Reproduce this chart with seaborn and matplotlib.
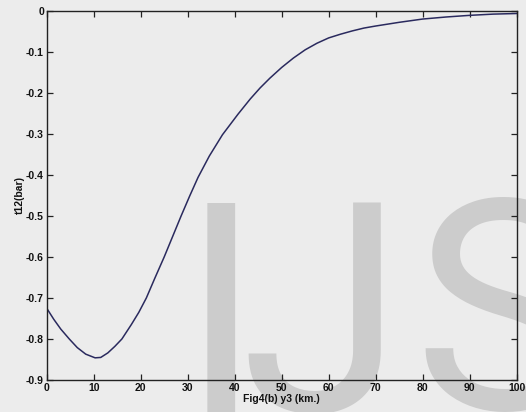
import matplotlib
matplotlib.use("Agg")
import matplotlib.pyplot as plt
import seaborn as sns
import pandas as pd

# Data
y3_km = [0, 1.5, 3, 4.8, 6.5, 8.3, 10.3, 11.5, 13, 14.5, 16, 18, 19.6, 21.2, 23, 25, 26.8,
         28.6, 30.4, 32.2, 34.6, 37.4, 40.7, 43.3, 45.4, 47.5, 50, 52.5, 55, 57.5, 60,
         62.5, 65, 67.5, 70, 75, 80, 85, 90, 95, 100]
t12_bar = [-0.725, -0.752, -0.776, -0.800, -0.821, -0.837, -0.846, -0.845, -0.834, -0.818,
           -0.800, -0.765, -0.735, -0.700, -0.652, -0.600, -0.550, -0.500, -0.452, -0.406,
           -0.354, -0.302, -0.252, -0.215, -0.188, -0.164, -0.138, -0.115, -0.095, -0.079,
           -0.066, -0.057, -0.049, -0.042, -0.037, -0.028, -0.020, -0.015, -0.011, -0.008,
           -0.0065]
x_ticks = [0, 10, 20, 30, 40, 50, 60, 70, 80, 90, 100]
y_ticks = [0, -0.1, -0.2, -0.3, -0.4, -0.5, -0.6, -0.7, -0.8, -0.9]
y_ticklabels = ["0", "-0.1", "-0.2", "-0.3", "-0.4", "-0.5", "-0.6", "-0.7", "-0.8", "-0.9"]
watermark_letters = ["I", "J", "S"]

sns.set_style("ticks")
plt.rcParams['font.family'] = ['Liberation Sans', 'DejaVu Sans']

bg = "#ececec"
fig = plt.figure(figsize=(5.26, 4.12), dpi=100, facecolor=bg)
ax = fig.add_axes([0.0888, 0.0777, 0.8935, 0.896])
ax.set_facecolor("none")
ax.set_zorder(1)

df = pd.DataFrame({"y3": y3_km, "t12": t12_bar})
sns.lineplot(data=df, x="y3", y="t12", ax=ax, color="#2a2a5e", linewidth=1.1)

ax.set_xlim(0, 100)
ax.set_ylim(-0.9, 0)
ax.set_xticks(x_ticks)
ax.set_xticklabels([str(t) for t in x_ticks])
ax.set_yticks(y_ticks)
ax.set_yticklabels(y_ticklabels)
for s in ax.spines.values():
    s.set_visible(True)
    s.set_color("#222222")
    s.set_linewidth(1.0)
ax.tick_params(direction="in", length=4, width=0.9, top=True, right=True,
               labelsize=7.5, pad=2, colors="#222222")
for lab in ax.get_xticklabels() + ax.get_yticklabels():
    lab.set_fontweight("bold")
    lab.set_color("#111111")
ax.set_xlabel("Fig4(b) y3 (km.)", fontsize=7.5, fontweight="bold", labelpad=1, color="#111111")
ax.set_ylabel("t12(bar)", fontsize=7.5, fontweight="bold", labelpad=1, color="#111111")

# watermark (three letters placed separately)
W, H = 526, 412
wm_kw = dict(fontsize=212, color="#cccccc", family="Roboto", zorder=0)
fig.text(220.5 / W, 1 - 191.5 / H, watermark_letters[0], ha="center", va="top", **wm_kw)
fig.text(403 / W, 1 - 191.5 / H, watermark_letters[1], ha="right", va="top", **wm_kw)
fig.text(413.5 / W, 1 - 188.5 / H, watermark_letters[2], ha="left", va="top", **wm_kw)

fig.savefig("out.png", dpi=100, facecolor=bg)
